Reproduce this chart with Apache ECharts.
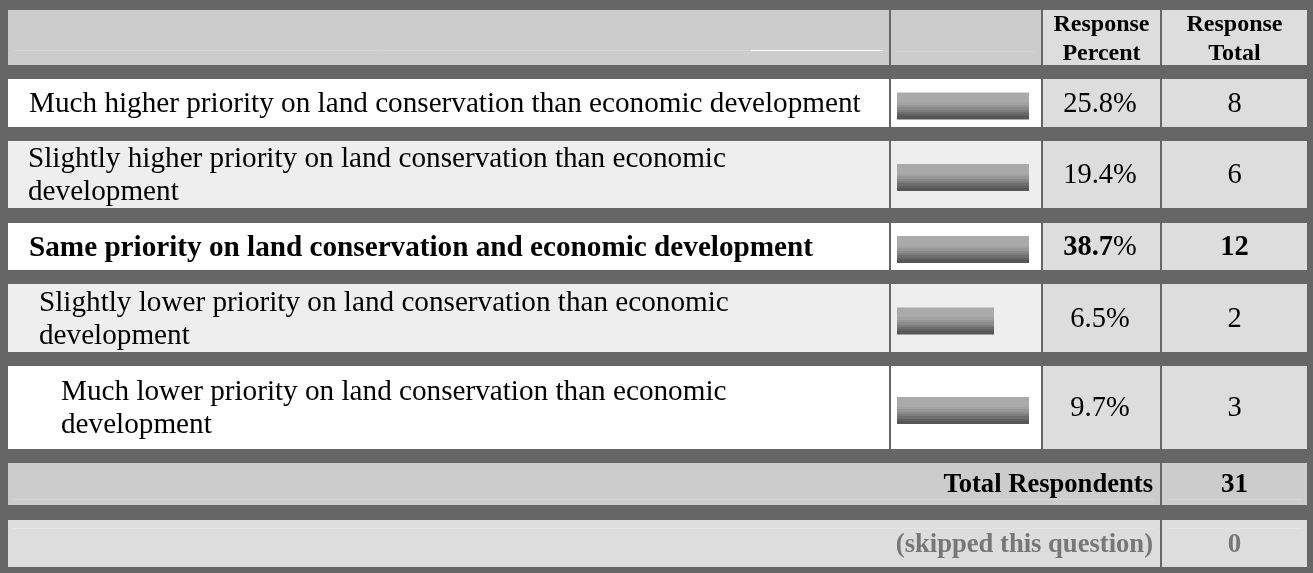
<!DOCTYPE html>
<html>
<head>
<meta charset="utf-8">
<script src="https://cdn.jsdelivr.net/npm/echarts/dist/echarts.min.js"></script>
<style>
html,body{margin:0;padding:0;background:#666666;}
#c{width:1313px;height:573px;}
</style>
</head>
<body>
<div id="c"></div>
<script>
// ---------- data ----------
const categories = [
  "Much higher priority on land conservation than economic development",
  "Slightly higher priority on land conservation than economic\ndevelopment",
  "Same priority on land conservation and economic development",
  "Slightly lower priority on land conservation than economic\ndevelopment",
  "Much lower priority on land conservation than economic\ndevelopment"
];
const percents = [25.8, 19.4, 38.7, 6.5, 9.7];
const totals = [8, 6, 12, 2, 3];
const headerLabels = ["Response\nPercent", "Response\nTotal"];
const totalLabel = "Total Respondents";
const totalRespondents = 31;
const skippedLabel = "(skipped this question)";
const skippedCount = 0;

// ---------- layout (styles / positions) ----------
const FONT = '"Liberation Serif","Times New Roman",serif';
const rows = [
  {top: 79,  bottom: 127, bg: '#ffffff', indent: 29, bold: false},
  {top: 141, bottom: 208, bg: '#eeeeee', indent: 28, bold: false},
  {top: 223, bottom: 270, bg: '#ffffff', indent: 29, bold: true},
  {top: 284, bottom: 352, bg: '#eeeeee', indent: 39, bold: false},
  {top: 366, bottom: 449, bg: '#ffffff', indent: 61, bold: false}
];
const col = {lab0: 8, lab1: 889, bar0: 891, bar1: 1041, pct0: 1043, pct1: 1160, tot0: 1162, tot1: 1307};
const header = {top: 10, bottom: 65};
const totalRow = {top: 463, bottom: 505};
const skipRow = {top: 520, bottom: 567};
const barLeft = 897, barFullWidth = 132, barH = 27;
const axisMax = 8.845; // value that fills the bar cell
const TXT_DY = 1.5;

function rect(x0, y0, x1, y1, fill) {
  return {type: 'rect', silent: true, z: 0,
    shape: {x: x0, y: y0, width: x1 - x0, height: y1 - y0},
    style: {fill: fill}};
}
function line(x0, y0, x1, y1, color) {
  return {type: 'line', silent: true, z: 1,
    shape: {x1: x0, y1: y0, x2: x1, y2: y1},
    style: {stroke: color, lineWidth: 1}};
}
function text(x, y, str, o) {
  o = o || {};
  return {type: 'text', silent: true, z: 5, x: x, y: y,
    style: {
      text: str,
      fontFamily: FONT,
      fontSize: o.size || 29.2,
      fontWeight: o.bold ? 'bold' : 'normal',
      fill: o.color || '#000000',
      align: o.align || 'left', textAlign: o.align || 'left',
      verticalAlign: 'middle', textVerticalAlign: 'middle',
      lineHeight: o.lh || 33,
      rich: o.rich
    }};
}

const gfx = [];
// header
gfx.push(rect(col.lab0, header.top, col.lab1, header.bottom, '#cccccc'));
gfx.push(rect(col.bar0, header.top, col.bar1, header.bottom, '#cccccc'));
gfx.push(rect(col.pct0, header.top, col.pct1, header.bottom, '#dddddd'));
gfx.push(rect(col.tot0, header.top, col.tot1, header.bottom, '#dddddd'));
gfx.push(line(14, 50.5, 751, 50.5, '#d4d4d4'));
gfx.push(line(751, 50.5, 883, 50.5, '#ffffff'));
gfx.push(line(897, 51.5, 1035, 51.5, '#d4d4d4'));
gfx.push(text((col.pct0 + col.pct1) / 2, 39.5, headerLabels[0], {bold: true, size: 24, align: 'center', lh: 29}));
gfx.push(text((col.tot0 + col.tot1) / 2, 39.5, headerLabels[1], {bold: true, size: 24, align: 'center', lh: 29}));

// data rows
const pctX = 1100, totX = 1234.5;
rows.forEach(function (r, i) {
  const cy = (r.top + r.bottom) / 2 + TXT_DY;
  gfx.push(rect(col.lab0, r.top, col.lab1, r.bottom, r.bg));
  gfx.push(rect(col.bar0, r.top, col.bar1, r.bottom, r.bg));
  gfx.push(rect(col.pct0, r.top, col.pct1, r.bottom, '#dddddd'));
  gfx.push(rect(col.tot0, r.top, col.tot1, r.bottom, '#dddddd'));
  gfx.push(text(r.indent, cy, categories[i], {bold: r.bold}));
  const p = percents[i].toFixed(1);
  if (r.bold) {
    gfx.push(text(pctX, cy, '{b|' + p + '}%',
      {align: 'center', size: 28.5, rich: {b: {fontFamily: FONT, fontSize: 28.5, fontWeight: 'bold', fill: '#000'}}}));
  } else {
    gfx.push(text(pctX, cy, p + '%', {align: 'center', size: 28.5}));
  }
  gfx.push(text(totX, cy, String(totals[i]), {align: 'center', size: 28.5, bold: r.bold}));
});

// total respondents row
gfx.push(rect(col.lab0, totalRow.top, col.pct1, totalRow.bottom, '#cccccc'));
gfx.push(rect(col.tot0, totalRow.top, col.tot1, totalRow.bottom, '#cccccc'));
gfx.push(line(13, 499.5, 1154, 499.5, '#d6d6d6'));
gfx.push(line(1168, 499.5, 1302, 499.5, '#d6d6d6'));
gfx.push(text(col.pct1 - 7, 485.5, totalLabel, {bold: true, size: 26.6, align: 'right'}));
gfx.push(text(totX, 485.5, String(totalRespondents), {bold: true, size: 27, align: 'center'}));

// skipped row
gfx.push(rect(col.lab0, skipRow.top, col.pct1, skipRow.bottom, '#dddddd'));
gfx.push(rect(col.tot0, skipRow.top, col.tot1, skipRow.bottom, '#dddddd'));
gfx.push(line(13, 528.5, 1154, 528.5, '#e4e4e4'));
gfx.push(line(1168, 528.5, 1302, 528.5, '#e4e4e4'));
gfx.push(text(col.pct1 - 7, 545, skippedLabel, {bold: true, size: 26.6, align: 'right', color: '#777777'}));
gfx.push(text(totX, 545, String(skippedCount), {bold: true, size: 27, align: 'center', color: '#777777'}));

// ---------- bars through the library's axes (one grid per row) ----------
const barGradient = new echarts.graphic.LinearGradient(0, 0, 0, 1, [
  {offset: 0, color: '#aaaaaa'}, {offset: 0.36, color: '#aaaaaa'},
  {offset: 0.36, color: '#a3a3a3'}, {offset: 0.46, color: '#a3a3a3'},
  {offset: 0.46, color: '#979797'}, {offset: 0.55, color: '#979797'},
  {offset: 0.55, color: '#8b8b8b'}, {offset: 0.63, color: '#8b8b8b'},
  {offset: 0.63, color: '#7d7d7d'}, {offset: 0.72, color: '#7d7d7d'},
  {offset: 0.72, color: '#6e6e6e'}, {offset: 0.80, color: '#6e6e6e'},
  {offset: 0.80, color: '#606060'}, {offset: 0.88, color: '#606060'},
  {offset: 0.88, color: '#565656'}, {offset: 1, color: '#565656'}
]);

const grids = [], xAxes = [], yAxes = [], series = [];
rows.forEach(function (r, i) {
  const cy = (r.top + r.bottom) / 2;
  grids.push({left: barLeft, width: barFullWidth, top: cy + 3 - barH / 2, height: barH, containLabel: false});
  xAxes.push({type: 'value', gridIndex: i, min: 0, max: axisMax, show: false});
  yAxes.push({type: 'category', gridIndex: i, data: [categories[i]], show: false});
  series.push({
    type: 'bar', xAxisIndex: i, yAxisIndex: i,
    data: [percents[i]], barWidth: barH, clip: true, silent: true,
    itemStyle: {color: barGradient}, z: 3
  });
});

const chart = echarts.init(document.getElementById('c'), null, {renderer: 'canvas'});
chart.setOption({
  backgroundColor: '#666666',
  animation: false,
  grid: grids,
  xAxis: xAxes,
  yAxis: yAxes,
  series: series,
  graphic: {elements: gfx}
});
</script>
</body>
</html>
